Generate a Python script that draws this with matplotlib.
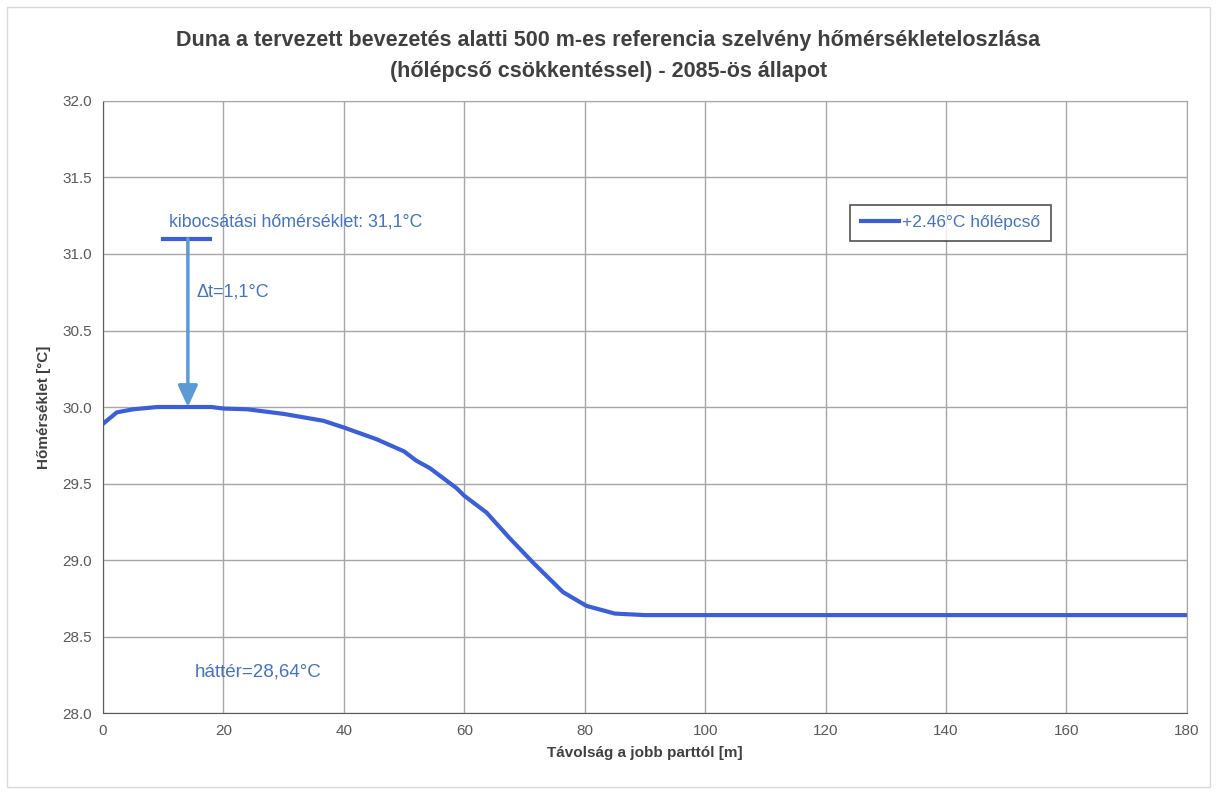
import numpy as np
import matplotlib.pyplot as plt
from matplotlib.patches import Rectangle

# temperature profile across the section
tavolsag = [0, 2.3, 5, 9, 14, 18, 20, 24, 30, 36.6, 40, 45.4, 50, 52, 54.3, 58.7, 60,
            63.7, 67.6, 71.5, 76.4, 80.3, 85, 90, 100, 120, 140, 160, 180]
homerseklet = [29.89, 29.965, 29.985, 30.0, 30.0, 30.0, 29.99, 29.985, 29.955, 29.91, 29.866,
               29.79, 29.71, 29.65, 29.60, 29.47, 29.42, 29.31, 29.14, 28.98, 28.79, 28.70,
               28.65, 28.64, 28.64, 28.64, 28.64, 28.64, 28.64]

kibocsatas = 31.1
hatter = 28.64
max_hom = 30.0

plt.rcParams['font.family'] = ['Liberation Sans', 'DejaVu Sans']

fig = plt.figure(figsize=(12.17, 7.92), dpi=100)
ax = fig.add_axes([0.0846, 0.0997, 0.8907, 0.7728])

fig.patches.append(Rectangle((0.006, 0.006), 0.988, 0.985, transform=fig.transFigure,
                             fill=False, edgecolor='#d9d9d9', linewidth=1))

ax.plot(tavolsag, homerseklet, color='#3a5fd9', linewidth=3, label='+2.46°C hőlépcső')

# discharge temperature marker and delta arrow
ax.plot([10, 17.8], [kibocsatas, kibocsatas], color='#3a5fd9', linewidth=3)
ax.annotate('', xy=(14.1, max_hom), xytext=(14.1, kibocsatas),
            arrowprops=dict(arrowstyle='-|>,head_length=1.3,head_width=0.6',
                            color='#5b9bd5', linewidth=2.5, shrinkA=0, shrinkB=0))
ax.text(11.0, 31.21, 'kibocsátási hőmérséklet: 31,1°C', color='#4472c4', fontsize=12.8,
        va='center')
ax.text(15.6, 30.75, 'Δt=1,1°C', color='#4472c4', fontsize=13, va='center')
ax.text(15.2, 28.27, 'háttér=28,64°C', color='#4472c4', fontsize=13.5, va='center')

ax.set_xlim(0, 180)
ax.set_ylim(28.0, 32.0)
ax.set_xticks(np.arange(0, 181, 20))
ax.set_yticks(np.arange(28.0, 32.01, 0.5))
ax.yaxis.set_major_formatter(plt.FormatStrFormatter('%.1f'))
ax.grid(True, color='#a6a6a6', linewidth=1)
ax.set_axisbelow(True)
for s in ax.spines.values():
    s.set_color('#a6a6a6')
ax.spines['left'].set_color('#595959')
ax.spines['bottom'].set_color('#595959')
ax.tick_params(length=0, pad=8, labelsize=11, labelcolor='#595959')

ax.set_xlabel('Távolság a jobb parttól [m]', fontsize=11, fontweight='bold', color='#404040',
              labelpad=6)
ax.set_ylabel('Hőmérséklet [°C]', fontsize=11, fontweight='bold', color='#404040', labelpad=8)

fig.suptitle('Duna a tervezett bevezetés alatti 500 m-es referencia szelvény hőmérsékleteloszlása\n'
             '(hőlépcső csökkentéssel) - 2085-ös állapot', x=0.5, y=0.962, fontsize=15.5,
             fontweight='bold', color='#404040', linespacing=1.6,
             family=['Liberation Sans Narrow', 'Liberation Sans', 'DejaVu Sans'])

leg = ax.legend(loc='upper left', bbox_to_anchor=(0.6815, 0.845), frameon=True, fancybox=False,
                fontsize=12.5, handlelength=2.2, handletextpad=0.2, borderpad=0.6)
leg.get_frame().set_edgecolor('#262626')
leg.get_frame().set_linewidth(1.2)
for t in leg.get_texts():
    t.set_color('#4472c4')

fig.savefig('out.png', dpi=100)
